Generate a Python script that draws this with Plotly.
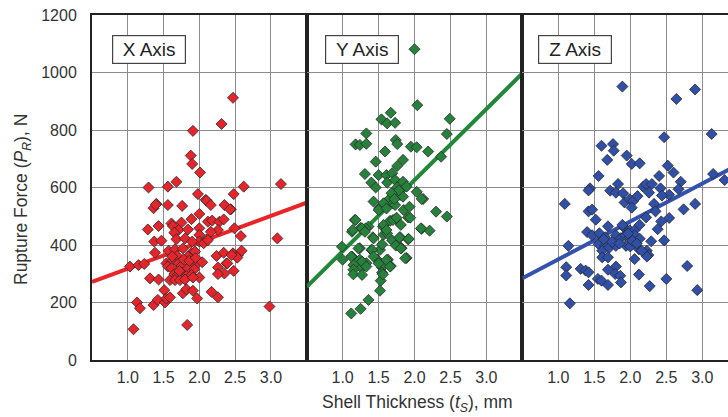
import plotly.graph_objects as go

# Shell thickness (mm) and rupture force (N) per loading axis
x_axis_t = [1.29, 1.56, 1.68, 1.91, 1.88, 1.90, 2.01, 1.98, 2.09, 2.31, 2.47, 2.48, 2.62, 3.14,
            2.10, 2.16, 1.40, 1.36, 1.56, 1.76, 2.35, 2.44, 2.00, 1.89, 1.75, 1.61, 1.28, 1.43,
            1.63, 1.71, 1.84, 2.00, 2.12, 2.18, 2.28, 2.34, 2.49, 2.26, 1.65, 2.00, 2.16, 1.37,
            1.47, 1.68, 1.80, 2.00, 2.10, 2.58, 3.09, 1.38, 1.57, 1.66, 1.77, 1.89, 1.94, 1.69,
            1.84, 1.54, 1.61, 1.71, 1.75, 1.89, 1.98, 1.56, 1.61, 1.84, 1.93, 2.24, 2.34, 2.47,
            2.54, 2.59, 2.38, 2.26, 2.35, 2.26, 2.48, 1.03, 1.15, 1.23, 1.31, 1.43, 1.59, 1.65,
            1.70, 1.75, 1.82, 1.89, 2.00, 1.66, 1.73, 1.80, 1.91, 1.51, 1.77, 1.82, 1.91, 1.97,
            2.17, 2.26, 1.13, 1.17, 1.36, 1.42, 1.52, 1.54, 1.59, 2.98, 1.08, 1.83, 1.78, 1.86,
            1.72, 1.95, 2.04, 1.62, 2.06, 2.12, 1.90, 2.53, 2.39, 2.45, 1.39, 2.43]
x_axis_p = [600, 603, 620, 797, 711, 682, 652, 577, 557, 821, 912, 577, 603, 612,
            554, 539, 543, 528, 539, 536, 539, 524, 508, 490, 478, 475, 454, 466,
            466, 452, 454, 458, 481, 485, 481, 489, 458, 452, 443, 435, 446, 412,
            415, 420, 423, 412, 419, 431, 423, 373, 380, 385, 388, 373, 377, 362,
            360, 336, 342, 336, 327, 336, 338, 325, 319, 319, 315, 362, 373, 371,
            365, 380, 336, 322, 301, 299, 310, 325, 330, 334, 284, 280, 278, 299,
            296, 304, 292, 296, 287, 278, 278, 280, 287, 243, 232, 246, 241, 214,
            237, 218, 200, 180, 191, 209, 200, 214, 218, 186, 107, 122, 350, 345,
            310, 355, 340, 360, 406, 417, 412, 356, 336, 365, 540, 524]

y_axis_t = [2.00, 2.04, 1.67, 1.54, 1.62, 1.73, 2.49, 2.45, 1.33, 1.18, 1.24, 1.33, 1.74, 1.76,
            1.59, 1.95, 2.03, 2.19, 2.37, 1.84, 1.46, 1.76, 1.31, 1.50, 1.61, 1.69, 1.40, 1.62,
            1.73, 1.76, 1.84, 1.89, 2.03, 2.12, 1.43, 1.51, 1.59, 1.65, 1.70, 1.80, 1.84, 2.30,
            2.45, 1.17, 1.36, 1.25, 1.13, 1.32, 1.56, 1.66, 1.74, 1.91, 2.10, 2.21, 1.42, 1.57,
            1.62, 1.69, 1.80, 1.91, 1.77, 1.82, 0.99, 1.00, 1.24, 1.40, 1.52, 1.13, 1.24, 1.33,
            1.15, 1.26, 1.15, 1.48, 1.55, 1.63, 1.67, 1.89, 1.55, 1.53, 1.52, 1.36, 1.25, 1.12,
            1.57, 1.73, 1.85, 1.50, 1.61, 1.93, 2.10, 1.18, 1.70, 1.75, 1.94, 1.14, 1.27, 1.31,
            1.43, 1.57, 1.61, 1.79, 1.92, 2.09, 1.22, 1.41, 1.55, 1.74, 1.81, 1.43, 1.12, 1.27,
            1.33, 1.50, 1.61, 1.66, 1.87, 1.15, 1.27, 1.56, 1.78, 1.68, 1.72, 1.46, 1.81]
y_axis_p = [1081, 886, 860, 837, 823, 825, 839, 786, 788, 750, 748, 752, 765, 751,
            725, 742, 740, 725, 707, 696, 690, 675, 647, 643, 643, 650, 617, 617,
            626, 600, 620, 603, 585, 560, 551, 528, 545, 560, 545, 574, 568, 516,
            499, 487, 464, 460, 446, 458, 464, 484, 490, 496, 456, 450, 427, 436,
            440, 416, 427, 420, 400, 389, 394, 349, 389, 383, 383, 360, 349, 337,
            330, 320, 314, 349, 322, 349, 327, 355, 304, 276, 241, 209, 178, 162,
            545, 539, 522, 522, 527, 533, 560, 487, 487, 495, 495, 452, 458, 446,
            423, 470, 452, 426, 421, 458, 388, 383, 402, 398, 388, 360, 360, 342,
            325, 336, 348, 325, 354, 298, 296, 298, 590, 580, 560, 600, 470]

z_axis_t = [1.89, 2.90, 2.64, 3.13, 2.47, 1.60, 1.76, 1.77, 1.68, 1.95, 2.02, 2.13, 2.52, 2.60,
            1.56, 3.15, 3.31, 2.40, 2.70, 1.44, 1.42, 1.72, 1.83, 1.80, 1.90, 2.18, 2.22, 2.30,
            2.42, 2.26, 2.67, 2.54, 2.44, 1.09, 1.92, 1.99, 2.04, 2.10, 2.33, 2.90, 2.74, 1.42,
            1.47, 1.52, 2.35, 2.43, 2.54, 1.69, 1.40, 1.47, 1.57, 1.65, 1.92, 1.99, 2.06, 2.13,
            2.22, 1.80, 1.87, 1.93, 1.99, 2.06, 2.13, 2.29, 2.47, 1.14, 1.56, 1.65, 1.61, 1.71,
            1.80, 1.94, 2.00, 2.12, 2.23, 1.61, 1.69, 2.06, 2.25, 2.23, 1.11, 1.31, 1.38, 1.42,
            1.69, 1.80, 1.79, 1.86, 2.79, 1.11, 1.42, 1.55, 1.60, 1.69, 1.87, 2.12, 2.50, 2.27,
            2.93, 1.16, 1.75, 1.85, 1.97, 2.03, 1.63, 2.09, 2.16, 1.89, 2.38, 2.02]
z_axis_p = [951, 941, 908, 786, 775, 745, 751, 728, 696, 711, 682, 684, 676, 652,
            640, 647, 626, 640, 620, 597, 590, 589, 612, 582, 580, 603, 612, 612,
            597, 582, 594, 575, 572, 543, 548, 559, 553, 570, 543, 543, 524, 517,
            523, 488, 517, 482, 494, 465, 445, 434, 441, 427, 459, 451, 451, 470,
            496, 434, 424, 434, 427, 434, 422, 413, 416, 397, 403, 397, 380, 391,
            397, 397, 395, 385, 380, 357, 357, 351, 365, 360, 323, 317, 311, 305,
            314, 325, 299, 293, 327, 294, 261, 282, 276, 261, 270, 297, 282, 257,
            243, 197, 410, 405, 440, 415, 420, 405, 380, 470, 455, 530]

# Least-squares fit lines: intercept and slope (N, N/mm)
fit_intercept = [226, 131, 218]
fit_slope = [91.7, 247.3, 132.0]
fit_t = [0.5, 3.5]

panel_names = ["X Axis", "Y Axis", "Z Axis"]
panel_colors = ["#e5242b", "#26813a", "#2f4fa8"]
line_colors = ["#e8262a", "#23873a", "#3352ac"]

x_ticks = [1.0, 1.5, 2.0, 2.5, 3.0]
x_tick_text = ["1.0", "1.5", "2.0", "2.5", "3.0"]
y_ticks = [0, 200, 400, 600, 800, 1000, 1200]

series = [(x_axis_t, x_axis_p), (y_axis_t, y_axis_p), (z_axis_t, z_axis_p)]

W, H = 728, 417
ML, MT, MB = 92, 15, 57
plot_w = W - ML
plot_h = H - MT - MB
edges_px = [0, 214.7, 430.3, plot_w]
domains = [[edges_px[i] / plot_w, edges_px[i + 1] / plot_w] for i in range(3)]
px_per_mm = 72.0
x_ranges = [[0.5, 3.5], [0.5, 3.5],
            [0.5, 0.5 + (edges_px[3] - edges_px[2]) / px_per_mm]]


def paper_x(px):
    return (px - ML) / plot_w


def paper_y(py):
    return (H - MB - py) / plot_h


FONT = "Liberation Sans, Arial, sans-serif"
TXT = "#333333"

fig = go.Figure()
for i, (t, p) in enumerate(series):
    sfx = "" if i == 0 else str(i + 1)
    fit_p = [fit_intercept[i] + fit_slope[i] * v for v in fit_t]
    fig.add_trace(go.Scatter(
        x=fit_t, y=fit_p, mode="lines",
        line=dict(color=line_colors[i], width=4),
        xaxis="x" + sfx, yaxis="y" + sfx, showlegend=False, hoverinfo="skip"))
    fig.add_trace(go.Scatter(
        x=t, y=p, mode="markers",
        marker=dict(symbol="diamond", size=8.5, color=panel_colors[i],
                    line=dict(color="#2b2b2b", width=0.8)),
        xaxis="x" + sfx, yaxis="y" + sfx, showlegend=False))

layout = dict(
    width=W, height=H,
    margin=dict(l=ML, r=0, t=MT, b=MB, pad=0),
    paper_bgcolor="white", plot_bgcolor="white",
    font=dict(family=FONT, size=16, color=TXT),
)
for i in range(3):
    sfx = "" if i == 0 else str(i + 1)
    layout["xaxis" + sfx] = dict(
        domain=domains[i], range=x_ranges[i], anchor="y" + sfx,
        tickvals=x_ticks, ticktext=x_tick_text, ticks="",
        ticklabelstandoff=2,
        tickfont=dict(family=FONT, size=16, color=TXT),
        showgrid=True, gridcolor="#8c8c8c", gridwidth=1,
        zeroline=False, showline=True, linecolor="#222222", linewidth=2,
        mirror=True, fixedrange=True,
    )
    layout["yaxis" + sfx] = dict(
        domain=[0, 1], range=[0, 1200], anchor="x" + sfx,
        tickvals=y_ticks, ticks="", showticklabels=(i == 0),
        ticklabelstandoff=10,
        tickfont=dict(family=FONT, size=16, color=TXT),
        showgrid=True, gridcolor="#8c8c8c", gridwidth=1,
        zeroline=False, showline=True, linecolor="#222222", linewidth=2,
        mirror=(i < 2), fixedrange=True,
    )

label_x = [0.78, 0.754, 0.714]
annotations = []
for i in range(3):
    sfx = "" if i == 0 else str(i + 1)
    annotations.append(dict(
        x=label_x[i], y=1130, xref="x" + sfx, yref="y" + sfx,
        xanchor="left", yanchor="top", text=panel_names[i], showarrow=False,
        font=dict(family=FONT, size=19, color="#222222"),
        bgcolor="white", bordercolor="#444444", borderwidth=1.2,
        borderpad=1, width=70, height=25,
    ))
annotations.append(dict(
    x=paper_x(23), y=paper_y(200), xref="paper", yref="paper",
    text="Rupture Force (<i>P</i><sub><i>R</i></sub>), N", textangle=-90,
    showarrow=False, xanchor="center", yanchor="middle",
    font=dict(family=FONT, size=17.5, color=TXT),
))
annotations.append(dict(
    x=paper_x(417), y=paper_y(403), xref="paper", yref="paper",
    text="Shell Thickness (<i>t</i><sub><i>S</i></sub>), mm",
    showarrow=False, xanchor="center", yanchor="middle",
    font=dict(family=FONT, size=17.5, color=TXT),
))
layout["annotations"] = annotations

fig.update_layout(**layout)
fig.write_html("out.html", config={"displayModeBar": False})
